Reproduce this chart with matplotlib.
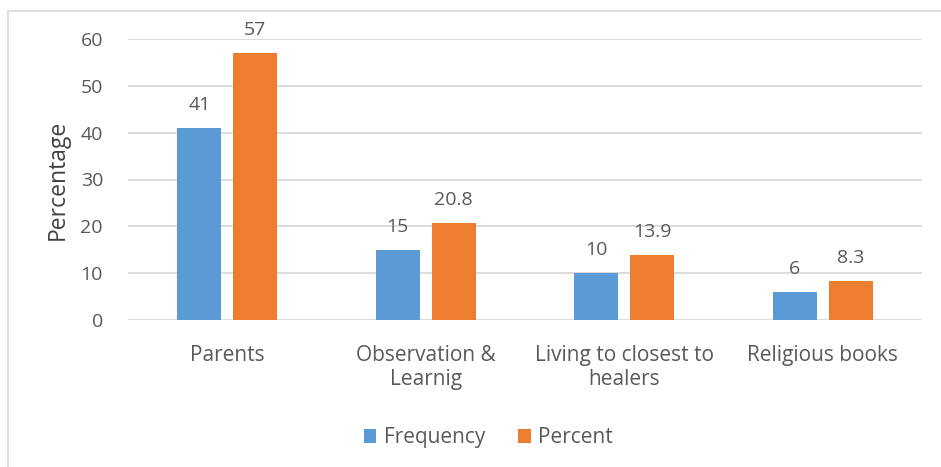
import matplotlib
matplotlib.use("Agg")
import matplotlib.pyplot as plt
from matplotlib.patches import Rectangle
import numpy as np

categories = ["Parents", "Observation &\nLearnig", "Living to closest to\nhealers", "Religious books"]
frequency = [41, 15, 10, 6]
percent = [57, 20.8, 13.9, 8.3]
freq_labels = ["41", "15", "10", "6"]
pct_labels = ["57", "20.8", "13.9", "8.3"]
yticks = [0, 10, 20, 30, 40, 50, 60]

blue = "#5B9BD5"
orange = "#ED7D31"
text_color = "#595959"
grid_color = "#D9D9D9"

plt.rcParams["font.family"] = ["Open Sans", "DejaVu Sans"]
fs = 14
cat_fs = 15

fig = plt.figure(figsize=(9.41, 4.67), dpi=100)
fig.patch.set_facecolor("white")

# outer chart frame
fig.patches.append(Rectangle((8 / 941, -0.05), 1.1, 1 - 11 / 467 + 0.05,
                             transform=fig.transFigure, fill=False,
                             edgecolor="#D9D9D9", linewidth=1.2))

ax = fig.add_axes([128 / 941, 147 / 467, 794 / 941, 281 / 467])
x = np.arange(len(categories))
w = 0.222
off = 0.141

b1 = ax.bar(x - off, frequency, w, color=blue, label="Frequency", zorder=3)
b2 = ax.bar(x + off, percent, w, color=orange, label="Percent", zorder=3)

for bars, labels in ((b1, freq_labels), (b2, pct_labels)):
    for rect, lab in zip(bars, labels):
        ax.annotate(lab, (rect.get_x() + rect.get_width() / 2, rect.get_height()),
                    xytext=(0, 10), textcoords="offset points", ha="center", va="bottom",
                    fontsize=fs, color=text_color, annotation_clip=False)

ax.set_xlim(-0.5, len(categories) - 0.5)
ax.set_ylim(0, 60)
ax.set_yticks(yticks)
ax.set_yticklabels([str(t) for t in yticks], fontsize=fs, color=text_color)
ax.set_xticks(x)
ax.set_xticklabels(categories, fontsize=cat_fs, color=text_color, linespacing=1.2)
ax.tick_params(axis="both", length=0)
ax.tick_params(axis="y", pad=18)
ax.tick_params(axis="x", pad=18)
ax.grid(axis="y", color=grid_color, linewidth=1.3, zorder=0)
for s in ax.spines.values():
    s.set_visible(False)
ax.set_ylabel("Percentage", fontsize=16.5, color="#404040", labelpad=8)

leg = ax.legend(loc="upper center", bbox_to_anchor=(0.454, -0.315), ncol=2, frameon=False,
                fontsize=cat_fs, handlelength=0.6, handleheight=0.6, handletextpad=0.35,
                columnspacing=1.6, labelcolor=text_color)

fig.savefig("out.png", dpi=100)
